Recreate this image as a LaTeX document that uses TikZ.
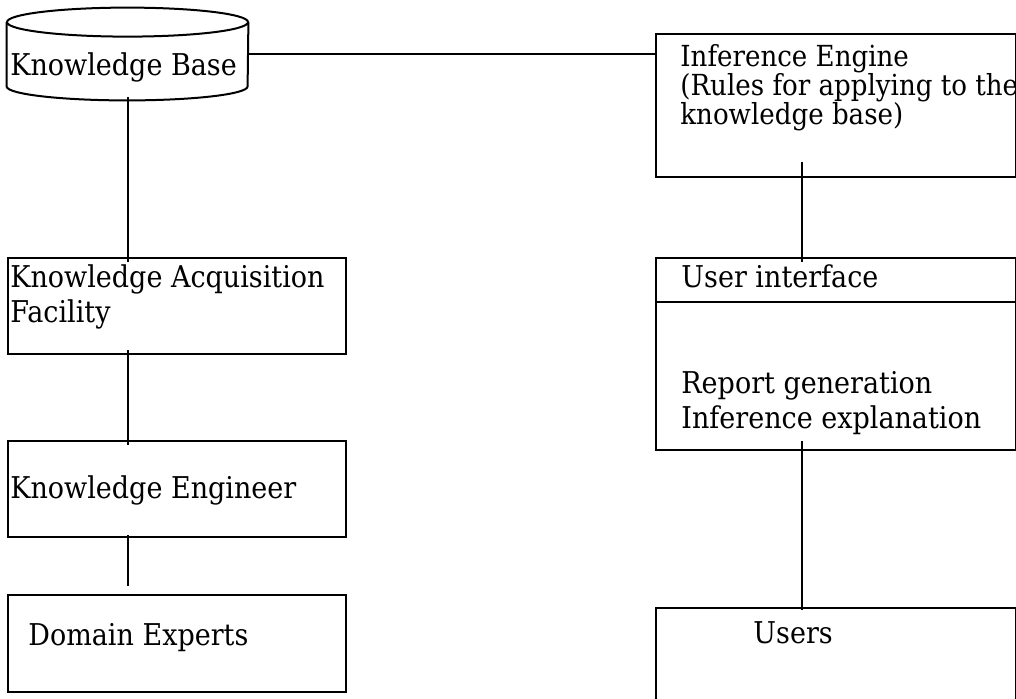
\documentclass[tikz,border=0pt]{standalone}
\usepackage{fontspec}
\setmainfont[FakeStretch=0.9]{DejaVu Serif}

\begin{document}
\begin{tikzpicture}[x=0.5pt,y=-0.5pt]
\tikzset{
 box/.style={draw,rectangle,line width=1pt,anchor=north west,inner sep=0pt},
 store/.style={rectangle,inner sep=0pt,minimum width=120.5pt,minimum height=46pt},
 lbl/.style={anchor=base west,inner sep=0pt,align=left,font=\fontsize{15}{17.5}\selectfont},
 link/.style={line width=1pt}
}
\useasboundingbox (0,0) rectangle (1016,698);
% boxes
\node[store] (kb) at (127.5,54) {};
\draw[link] ([yshift=-7.25pt]kb.north west) -- ([yshift=7pt]kb.south west)
  arc[start angle=180,end angle=360,x radius=60.25pt,y radius=7pt] -- ([yshift=-7.25pt]kb.north east);
\draw[link] ([yshift=-7.25pt]kb.north) ellipse [x radius=60.25pt,y radius=7.25pt];
\node[box,minimum width=180pt,minimum height=71.5pt] (ie) at (655,33) {};
\node[box,minimum width=180pt,minimum height=96pt] (ui) at (655,257) {};
\node[box,minimum width=180pt,minimum height=70pt] (users) at (655,607) {};
\node[box,minimum width=169pt,minimum height=48pt] (kaf) at (7,257) {};
\node[box,minimum width=169pt,minimum height=48pt] (ke) at (7,440) {};
\node[box,minimum width=169pt,minimum height=48.5pt] (de) at (7,594) {};
\draw[link] ([yshift=-22.5pt]ui.north west) -- ([yshift=-22.5pt]ui.north east);
% texts
\node[lbl] (kbtxt) at (10,75) {Knowledge Base};
\node[lbl,font=\fontsize{14.5}{14.5}\selectfont] (ietxt) at (680,124) {Inference Engine\\(Rules for applying to the\\knowledge base)};
\node[lbl] (uitxt) at (681,287) {User interface};
\node[lbl] (uidesc) at (681,428) {Report generation\\Inference explanation};
\node[lbl] (userstxt) at (753,643) {Users};
\node[lbl] (kaftxt) at (10,322) {Knowledge Acquisition\\Facility};
\node[lbl] (ketxt) at (10,498) {Knowledge Engineer};
\node[lbl] (detxt) at (28,645) {Domain Experts};
% links
\draw[link] (kb.east) -- (kb.east -| ie.west);
\draw[link,shorten <=-1.5pt,shorten >=-2.5pt] (kb.south) -- (kb.south |- kaf.north);
\draw[link,shorten <=-2.5pt,shorten >=-2.5pt] (kaf.south -| kb.south) -- (ke.north -| kb.south);
\draw[link,shorten <=-1.5pt,shorten >=4pt] (ke.south -| kb.south) -- (de.north -| kb.south);
\draw[link,shorten <=-8pt,shorten >=-2.5pt] ([xshift=-17pt]ie.south) -- ([xshift=-17pt]ui.north);
\draw[link,shorten <=-5pt,shorten >=-1.5pt] ([xshift=-17pt]ui.south) -- ([xshift=-17pt]users.north);
\end{tikzpicture}
\end{document}
